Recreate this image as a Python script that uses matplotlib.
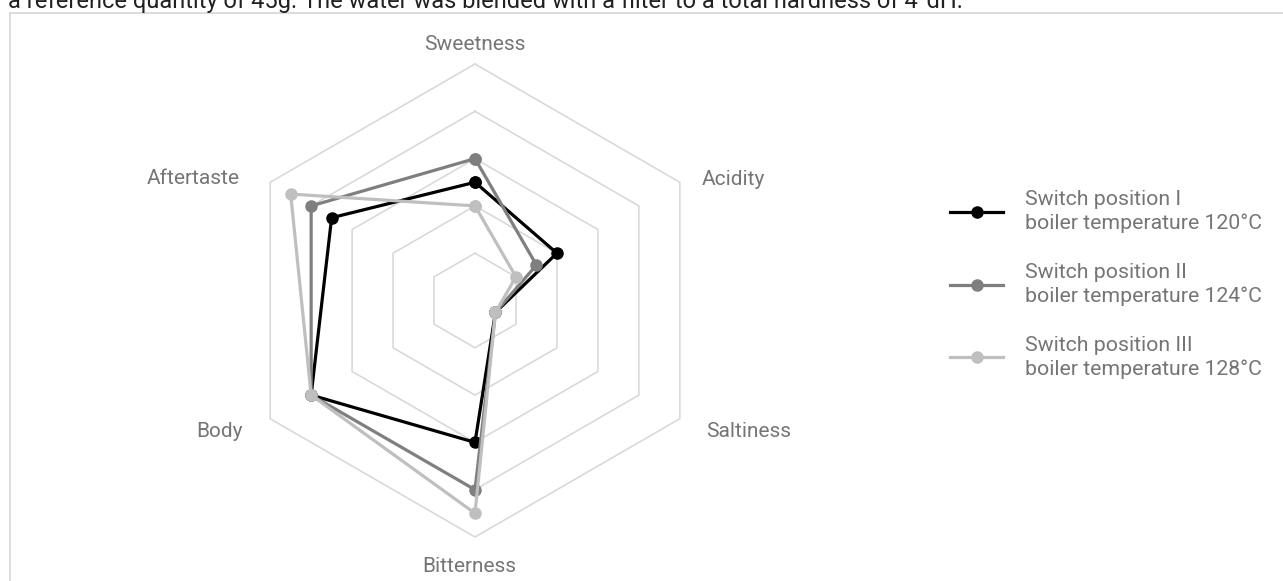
import numpy as np
import matplotlib
matplotlib.use('Agg')
from matplotlib import pyplot as plt
from matplotlib.lines import Line2D

plt.rcParams['font.family'] = ['Roboto', 'DejaVu Sans']

categories = ['Sweetness', 'Acidity', 'Saltiness', 'Bitterness', 'Body', 'Aftertaste']

switch_1 = [2.5, 2.0, 0.5, 3.0, 4.0, 3.5]
switch_2 = [3.0, 1.5, 0.5, 4.0, 4.0, 4.0]
switch_3 = [2.0, 1.0, 0.5, 4.5, 4.0, 4.5]

series_labels = ['Switch position I\nboiler temperature 120°C',
                 'Switch position II\nboiler temperature 124°C',
                 'Switch position III\nboiler temperature 128°C']
series_colors = ['#000000', '#7f7f7f', '#bfbfbf']

grid_levels = [1, 2, 3, 4, 5]
r_max = 5

caption = 'a reference quantity of 45g. The water was blended with a filter to a total hardness of 4°dH.'

W, H, DPI = 1283, 581, 100
cx, cy = 475, 300.5          # centre of the radar in pixels (from top-left)
px_per_unit = 236.5 / r_max
half = 7

fig = plt.figure(figsize=(W / DPI, H / DPI), dpi=DPI)
ax_w = 2 * half * px_per_unit
ax = fig.add_axes([(cx - ax_w / 2) / W, ((H - cy) - ax_w / 2) / H, ax_w / W, ax_w / H])
ax.set_xlim(-half, half)
ax.set_ylim(-half, half)
ax.axis('off')

# clockwise from the top
angles = np.deg2rad(90 - 60 * np.arange(len(categories)))

def to_xy(values):
    v = np.asarray(values, dtype=float)
    x = v * np.cos(angles)
    y = v * np.sin(angles)
    return np.append(x, x[0]), np.append(y, y[0])

# hexagonal grid
for lvl in grid_levels:
    gx, gy = to_xy([lvl] * len(categories))
    ax.plot(gx, gy, color='#d9d9d9', lw=1.2, zorder=1)

for vals, col, lab in zip([switch_1, switch_2, switch_3], series_colors, series_labels):
    x, y = to_xy(vals)
    ax.plot(x, y, color=col, lw=2.3, marker='o', markersize=8, label=lab, zorder=3)

# axis labels around the outer hexagon
label_style = {
    'Sweetness':  dict(ha='center', va='center', off=(0, 20)),
    'Acidity':    dict(ha='left',   va='center', off=(22, 3)),
    'Saltiness':  dict(ha='left',   va='center', off=(26, -13)),
    'Bitterness': dict(ha='center', va='center', off=(-6, -29)),
    'Body':       dict(ha='right',  va='center', off=(-27, -13)),
    'Aftertaste': dict(ha='right',  va='center', off=(-30, 4)),
}
for name, a in zip(categories, angles):
    st = label_style[name]
    ax.annotate(name, xy=(r_max * np.cos(a), r_max * np.sin(a)), xytext=st['off'],
                textcoords='offset pixels', ha=st['ha'], va=st['va'],
                fontsize=15, color='#757575')

leg = fig.legend(loc='upper left', bbox_to_anchor=(950 / W, 1 - 190 / H),
                 frameon=False, fontsize=15.3, labelcolor='#757575',
                 handlelength=2.5, handletextpad=1.05, labelspacing=1.4,
                 borderpad=0, borderaxespad=0)
for t in leg.get_texts():
    t.set_linespacing(1.3)

# box around the chart and the caption above it
box_col = '#d6d6d6'
fig.add_artist(Line2D([10 / W, 1.0], [1 - 13 / H, 1 - 13 / H], transform=fig.transFigure,
                      color=box_col, lw=1.2))
fig.add_artist(Line2D([10 / W, 10 / W], [0, 1 - 13 / H], transform=fig.transFigure,
                      color=box_col, lw=1.2))
fig.text(8 / W, 1 - 8 / H, caption, fontsize=17, color='#212121', va='baseline', ha='left')

fig.savefig('out.png', dpi=DPI, facecolor='white')
